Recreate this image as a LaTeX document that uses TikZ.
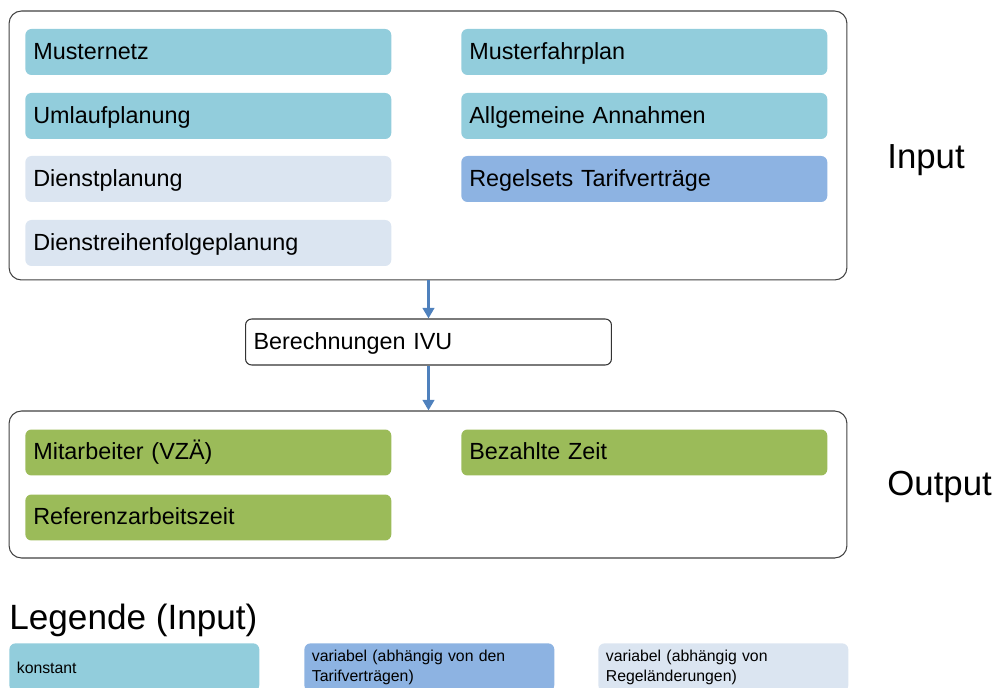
\documentclass[tikz,border=0pt]{standalone}
\usepackage{fontspec}
\setmainfont{Liberation Sans}
\usetikzlibrary{arrows.meta}
\definecolor{konst}{HTML}{92CDDC}
\definecolor{tarif}{HTML}{8DB3E2}
\definecolor{regel}{HTML}{DBE5F1}
\definecolor{ergeb}{HTML}{9BBB59}
\definecolor{pfeil}{HTML}{4F81BD}
\tikzset{
	feld/.style={rounded corners=3.5pt, anchor=west, minimum width=7.32cm,
		minimum height=0.92cm, text width=7.0cm, inner xsep=0.16cm,
		text height=9.6pt, text depth=1.6pt,
		font=\fontsize{13.3}{16}\selectfont},
	rahmen/.style={draw=black!75, line width=0.6pt, rounded corners=7pt},
	legfeld/.style={rounded corners=3.5pt, anchor=north west, minimum width=5cm,
		minimum height=0.96cm, text width=4.7cm, align=left, inner xsep=0.15cm,
		font=\fontsize{9}{11.3}\selectfont},
	pf/.style={draw=pfeil, line width=1.8pt, -{Triangle[width=6.5pt,length=6pt]}}
}
\begin{document}
\begin{tikzpicture}[x=0.02cm,y=-0.02cm]
	\useasboundingbox (0,0) rectangle (993,688);
	% Input
	\node[rahmen, minimum width=16.76cm, minimum height=5.38cm] (input) at (428,145.5) {};
	\node[feld, fill=konst] (netz) at (25,52) {Musternetz};
	\node[feld, fill=konst] (umlauf) at (25,116) {Umlaufplanung};
	\node[feld, fill=regel] (dienst) at (25,179) {Dienstplanung};
	\node[feld, fill=regel] (folge) at (25,243) {Dienstreihenfolgeplanung};
	\node[feld, fill=konst] (fahrplan) at (461,52) {Musterfahrplan};
	\node[feld, fill=konst] (annahmen) at (461,116) {Allgemeine Annahmen};
	\node[feld, fill=tarif] (tarife) at (461,179) {Regelsets Tarifverträge};
	\node[anchor=west, font=\fontsize{19.8}{24}\selectfont, inner sep=0pt] (inlabel) at (887,160) {Input};
	% Berechnung
	\node[feld, draw=black!80, line width=0.6pt, minimum width=7.3cm] (ivu) at (245,342) {Berechnungen IVU};
	% Output
	\node[rahmen, minimum width=16.76cm, minimum height=2.94cm] (output) at (428,484.5) {};
	\node[feld, fill=ergeb] (vza) at (25,452.5) {Mitarbeiter (VZÄ)};
	\node[feld, fill=ergeb] (zeit) at (461,452.5) {Bezahlte Zeit};
	\node[feld, fill=ergeb] (referenz) at (25,517.5) {Referenzarbeitszeit};
	\node[anchor=west, font=\fontsize{19.8}{24}\selectfont, inner sep=0pt] (outlabel) at (887,487) {Output};
	\draw[pf] (ivu.north |- input.south) -- (ivu.north);
	\draw[pf] (ivu.south) -- (ivu.south |- output.north);
	% Legende
	\node[anchor=west, font=\fontsize{20}{24}\selectfont, inner sep=0pt] (legende) at (9,620) {Legende (Input)};
	\node[legfeld, fill=konst] (lkonst) at (9,643) {konstant};
	\node[legfeld, fill=tarif] (ltarif) at (304,643) {variabel (abhängig von den\\Tarifverträgen)};
	\node[legfeld, fill=regel] (lregel) at (598,643) {variabel (abhängig von\\Regeländerungen)};
\end{tikzpicture}
\end{document}
